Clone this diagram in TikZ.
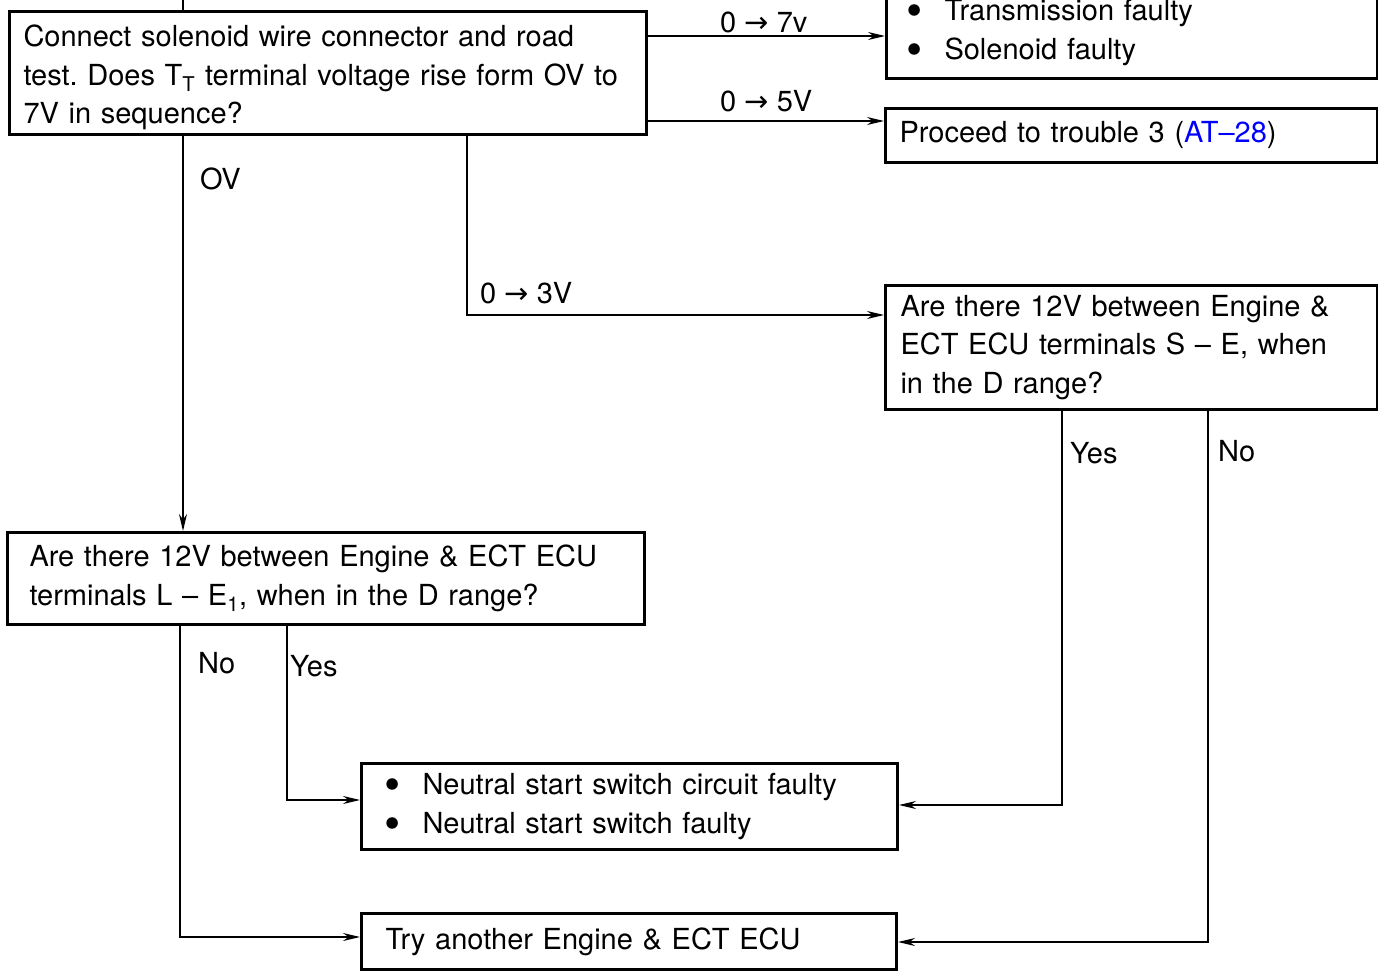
\documentclass[tikz,border=0pt]{standalone}
\usepackage{fontspec}
\setmainfont{TeX Gyre Heros}
\newfontfamily\symfont{DejaVu Sans}
\usetikzlibrary{arrows.meta}
\frenchspacing

\tikzset{
  box/.style={draw, line width=3pt, anchor=north west, align=left, inner ysep=0pt,
    font=\fontsize{29}{38.5}\selectfont},
  conn/.style={line width=1.6pt},
  arr/.style={conn, -{Stealth[length=17pt, width=8pt]}},
  lbl/.style={anchor=west, inner sep=0pt, font=\fontsize{29}{38.5}\selectfont}
}
\newcommand{\itm}{\makebox[38pt][l]{\raisebox{-0.2em}{\scalebox{1.6}{\textbullet}}}}
\newcommand{\rto}{{\symfont →}}

\begin{document}
\begin{tikzpicture}[x=1pt, y=-1pt]
    \useasboundingbox (0,0) rectangle (1378,971);

    % boxes
    \node[box, inner xsep=14pt, text width=609pt, minimum width=637pt, minimum height=123pt]
        (check) at (8,10) {\rule{0pt}{31pt}Connect solenoid wire connector and road\\
        test. Does T\textsubscript{T} terminal voltage rise form OV to\\7V in sequence?};
    \node[box, inner xsep=20pt, text width=451pt, minimum width=491pt, minimum height=92pt]
        (faulty) at (885,-15) {\itm Transmission faulty\\\itm Solenoid faulty};
    \node[box, inner xsep=14pt, text width=464pt, minimum width=492pt, minimum height=54pt]
        (trouble) at (884,107) {Proceed to trouble 3 (\textcolor{blue}{AT--28})};
    \node[box, inner xsep=15pt, text width=462pt, minimum width=492pt, minimum height=124pt]
        (ecuS) at (884,284) {Are there 12V between Engine \&\\
        ECT ECU terminals S -- E, when\\in the D range?};
    \node[box, inner xsep=22pt, text width=593pt, minimum width=637pt, minimum height=92pt]
        (ecuL) at (6,531) {Are there 12V between Engine \& ECT ECU\\
        terminals L -- E\textsubscript{1}, when in the D range?};
    \node[box, inner xsep=23pt, text width=490pt, minimum width=536pt, minimum height=86pt]
        (nss) at (360,762) {\itm Neutral start switch circuit faulty\\\itm Neutral start switch faulty};
    \node[box, inner xsep=24pt, text width=487pt, minimum width=535pt, minimum height=56pt]
        (retry) at (360,912) {Try another Engine \& ECT ECU};

    % connectors
    \draw[conn] (check.north -| 183,0) -- (183,0);
    \draw[arr] (check.east |- 0,36) -- (faulty.west |- 0,36);
    \node[lbl] (l7) at (720,22) {0 \rto{} 7v};
    \draw[arr] (check.east |- 0,121) -- (trouble.west |- 0,121);
    \node[lbl] (l5) at (720,101) {0 \rto{} 5V};
    \draw[arr] (check.south -| 183,0) -- (ecuL.north -| 183,0);
    \node[lbl] (l0) at (200,179) {OV};
    \draw[arr] (check.south -| 467,0) |- (ecuS.west |- 0,315);
    \node[lbl] (l3) at (480,293) {0 \rto{} 3V};

    \draw[arr] (ecuL.south -| 287,0) |- (nss.west |- 0,800);
    \node[lbl] (lyes1) at (290,666) {Yes};
    \draw[arr] (ecuL.south -| 180,0) |- (retry.west |- 0,937);
    \node[lbl] (lno1) at (198,663) {No};
    \draw[arr] (ecuS.south -| 1062,0) |- (nss.east |- 0,805);
    \node[lbl] (lyes2) at (1070,453) {Yes};
    \draw[arr] (ecuS.south -| 1208,0) |- (retry.east |- 0,942);
    \node[lbl] (lno2) at (1218,451) {No};
\end{tikzpicture}
\end{document}
